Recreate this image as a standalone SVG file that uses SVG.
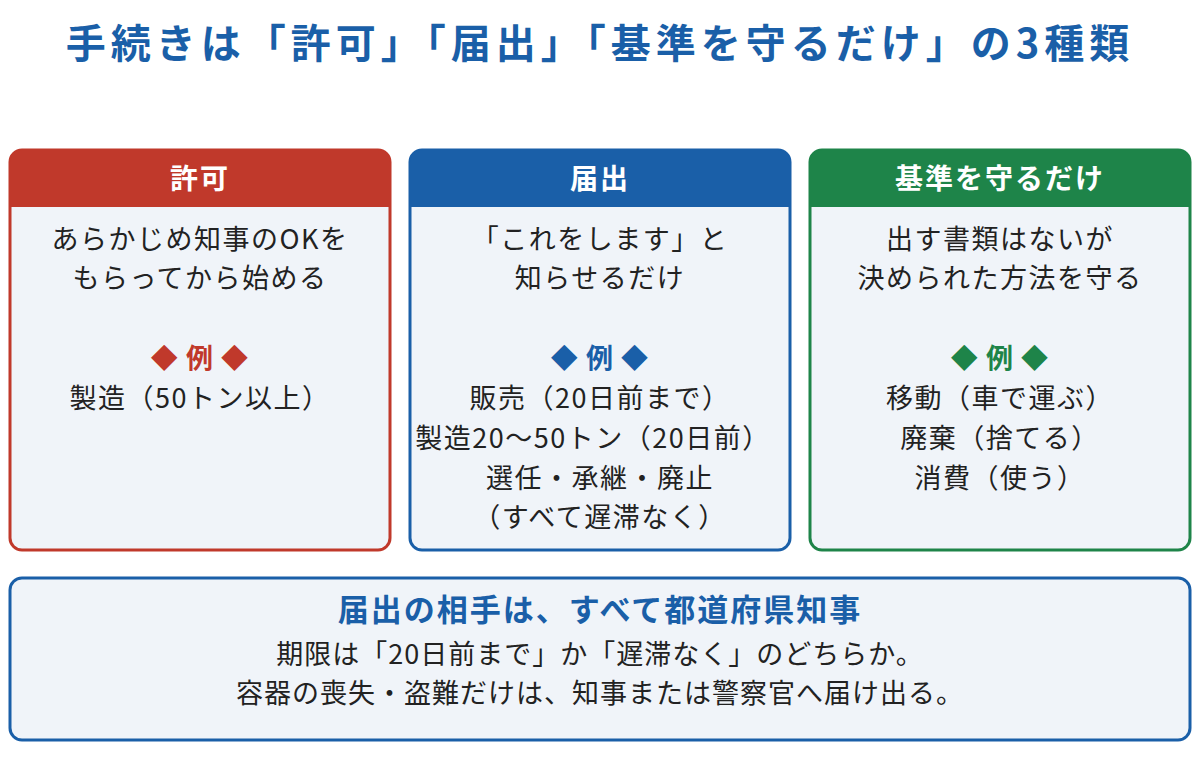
<svg xmlns="http://www.w3.org/2000/svg" width="1200" height="760" viewBox="0 0 1200 760">
<style>
text{font-family:"Noto Sans CJK JP","Liberation Sans",sans-serif;text-anchor:middle}
.title{font-size:40px;font-weight:bold;fill:#1a5fa8;letter-spacing:5px}
.hd{font-size:28px;font-weight:bold;fill:#fff;letter-spacing:2px}
.b{font-size:27px;fill:#222;letter-spacing:1.5px}
.ex{font-size:27px;font-weight:bold;letter-spacing:1px}
.n{font-size:27px;fill:#222;letter-spacing:1px}
.body{fill:#f0f4f9;stroke-width:3}
</style>
<rect width="1200" height="760" fill="#fff"/>
<text class="title" x="600" y="58">手続きは「許可」「届出」「基準を守るだけ」の3種類</text>
<g id="kyoka">
<rect class="body" x="10" y="150" width="380" height="400" rx="12" stroke="#c0392b"/>
<path d="M10,207 V162 a12,12 0 0 1 12,-12 H378 a12,12 0 0 1 12,12 V207 Z" fill="#c0392b"/>
<text class="hd" x="200" y="189">許可</text>
<text class="b" x="200" y="249">あらかじめ知事のOKを</text>
<text class="b" x="200" y="288">もらってから始める</text>
<text class="ex" x="200" y="368" fill="#c0392b">◆ 例 ◆</text>
<text class="b" x="200" y="408">製造（50トン以上）</text>
</g>
<g id="todokede">
<rect class="body" x="410" y="150" width="380" height="400" rx="12" stroke="#1a5fa8"/>
<path d="M410,207 V162 a12,12 0 0 1 12,-12 H778 a12,12 0 0 1 12,12 V207 Z" fill="#1a5fa8"/>
<text class="hd" x="600" y="189">届出</text>
<text class="b" x="600" y="249">「これをします」と</text>
<text class="b" x="600" y="288">知らせるだけ</text>
<text class="ex" x="600" y="368" fill="#1a5fa8">◆ 例 ◆</text>
<text class="b" x="600" y="408">販売（20日前まで）</text>
<text class="b" x="593" y="448">製造20～50トン（20日前）</text>
<text class="b" x="600" y="488">選任・承継・廃止</text>
<text class="b" x="600" y="527">（すべて遅滞なく）</text>
</g>
<g id="kijun">
<rect class="body" x="810" y="150" width="380" height="400" rx="12" stroke="#1e8449"/>
<path d="M810,207 V162 a12,12 0 0 1 12,-12 H1178 a12,12 0 0 1 12,12 V207 Z" fill="#1e8449"/>
<text class="hd" x="1000" y="189">基準を守るだけ</text>
<text class="b" x="1000" y="249">出す書類はないが</text>
<text class="b" x="1000" y="288">決められた方法を守る</text>
<text class="ex" x="1000" y="368" fill="#1e8449">◆ 例 ◆</text>
<text class="b" x="1000" y="408">移動（車で運ぶ）</text>
<text class="b" x="1000" y="448">廃棄（捨てる）</text>
<text class="b" x="1000" y="488">消費（使う）</text>
</g>
<g id="note">
<rect class="body" x="10" y="578" width="1180" height="162" rx="12" stroke="#1a5fa8"/>
<text x="600" y="621" style="font-size:31px;font-weight:bold;fill:#1a5fa8;letter-spacing:2px">届出の相手は、すべて都道府県知事</text>
<text class="n" x="600" y="664">期限は「20日前まで」か「遅滞なく」のどちらか。</text>
<text class="n" x="600" y="703">容器の喪失・盗難だけは、知事または警察官へ届け出る。</text>
</g>
<g id="connectors"></g>
</svg>
